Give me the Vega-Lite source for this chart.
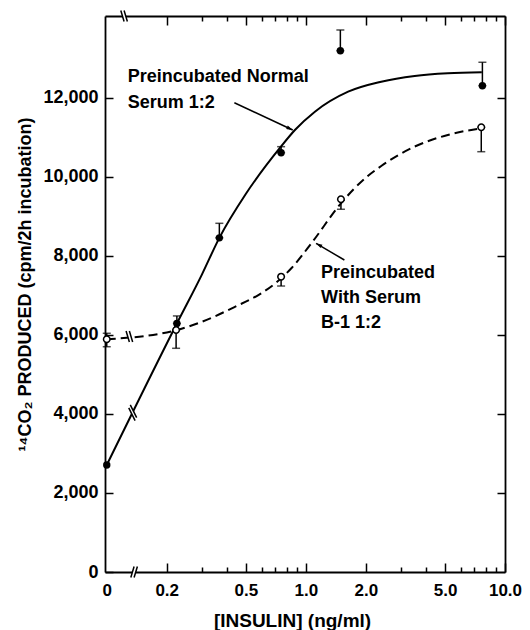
{
  "$schema": "https://vega.github.io/schema/vega-lite/v6.json",
  "width": 400,
  "height": 556,
  "autosize": "none",
  "padding": {"left": 105, "top": 16, "right": 25, "bottom": 58},
  "background": "white",
  "config": {
    "view": {"stroke": null},
    "font": "Liberation Sans",
    "axis": {
      "domainColor": "black", "domainWidth": 1.8,
      "tickColor": "black", "tickWidth": 1.5,
      "labelColor": "black", "titleColor": "black",
      "labelFont": "Liberation Sans", "titleFont": "Liberation Sans",
      "labelFontWeight": "bold", "titleFontWeight": "bold",
      "grid": false
    }
  },
  "datasets": {
    "curves": [
      {"series": "normal", "x": 0.1, "y": 2708},
      {"series": "normal", "x": 0.225, "y": 6290},
      {"series": "normal", "x": 0.3, "y": 7520},
      {"series": "normal", "x": 0.3677, "y": 8456},
      {"series": "normal", "x": 0.5, "y": 9571},
      {"series": "normal", "x": 0.751, "y": 10770},
      {"series": "normal", "x": 0.881, "y": 11185},
      {"series": "normal", "x": 1.11, "y": 11649},
      {"series": "normal", "x": 1.63, "y": 12155},
      {"series": "normal", "x": 2.39, "y": 12408},
      {"series": "normal", "x": 3.52, "y": 12552},
      {"series": "normal", "x": 5.16, "y": 12620},
      {"series": "normal", "x": 7.65, "y": 12646},
      {"series": "serum", "x": 0.1, "y": 5889},
      {"series": "serum", "x": 0.225, "y": 6124},
      {"series": "serum", "x": 0.3, "y": 6330},
      {"series": "serum", "x": 0.44, "y": 6710},
      {"series": "serum", "x": 0.6, "y": 7060},
      {"series": "serum", "x": 0.7, "y": 7300},
      {"series": "serum", "x": 0.85, "y": 7700},
      {"series": "serum", "x": 1.07, "y": 8330},
      {"series": "serum", "x": 1.5, "y": 9330},
      {"series": "serum", "x": 2.0, "y": 9980},
      {"series": "serum", "x": 2.4, "y": 10280},
      {"series": "serum", "x": 3.5, "y": 10760},
      {"series": "serum", "x": 5.16, "y": 11060},
      {"series": "serum", "x": 7.6, "y": 11230}
    ],
    "points": [
      {"series": "normal", "x": 0.1, "y": 2708},
      {"series": "normal", "x": 0.225, "y": 6290},
      {"series": "normal", "x": 0.3677, "y": 8456},
      {"series": "normal", "x": 0.751, "y": 10611},
      {"series": "normal", "x": 1.49, "y": 13192},
      {"series": "normal", "x": 7.7, "y": 12306},
      {"series": "serum", "x": 0.1, "y": 5889},
      {"series": "serum", "x": 0.223, "y": 6124},
      {"series": "serum", "x": 0.751, "y": 7473},
      {"series": "serum", "x": 1.5, "y": 9432},
      {"series": "serum", "x": 7.6, "y": 11254}
    ],
    "errors": [
      {"series": "normal", "x": 0.225, "lo": 6290, "hi": 6480},
      {"series": "normal", "x": 0.3677, "lo": 8456, "hi": 8824},
      {"series": "normal", "x": 0.751, "lo": 10611, "hi": 10763},
      {"series": "normal", "x": 1.49, "lo": 13192, "hi": 13716},
      {"series": "normal", "x": 7.7, "lo": 12306, "hi": 12899},
      {"series": "serum", "x": 0.1, "lo": 5701, "hi": 6041},
      {"series": "serum", "x": 0.223, "lo": 5661, "hi": 6124},
      {"series": "serum", "x": 0.751, "lo": 7237, "hi": 7473},
      {"series": "serum", "x": 1.5, "lo": 9179, "hi": 9432},
      {"series": "serum", "x": 7.6, "lo": 10636, "hi": 11254}
    ],
    "labels": [
      {"x": 0.1275, "y": 12514, "text": "Preincubated Normal"},
      {"x": 0.1275, "y": 11881, "text": "Serum 1:2"},
      {"x": 1.192, "y": 7559, "text": "Preincubated"},
      {"x": 1.192, "y": 6926, "text": "With Serum"},
      {"x": 1.192, "y": 6294, "text": "B-1 1:2"}
    ],
    "arrows": [
      {"arrow": "normal", "x": 0.4375, "y": 11876, "x2": 0.859, "y2": 11185},
      {"arrow": "serum", "x": 1.561, "y": 7895, "x2": 1.125, "y2": 8318}
    ],
    "breaks": [
      {"kind": "steep", "x": 0.135, "y": 4030},
      {"kind": "flat", "x": 0.1299, "y": 5960},
      {"kind": "flat", "x": 0.1222, "y": 14070},
      {"kind": "bottom", "x": 0.1372, "y": 0}
    ]
  },
  "encoding": {
    "x": {"field": "x", "type": "quantitative", "scale": {"type": "log", "domain": [0.098, 10], "nice": false}, "axis": null},
    "y": {"field": "y", "type": "quantitative", "scale": {"domain": [0, 14070], "nice": false, "zero": false}, "axis": null}
  },
  "layer": [
    {
      "data": {"name": "curves"},
      "transform": [{"filter": "datum.series == 'normal'"}],
      "mark": {"type": "line", "interpolate": "monotone", "color": "black", "strokeWidth": 2},
      "encoding": {
        "x": {
          "field": "x", "type": "quantitative",
          "scale": {"type": "log", "domain": [0.098, 10], "nice": false},
          "axis": {
            "orient": "bottom",
            "values": [0.1, 0.2, 0.3, 0.4, 0.5, 0.6, 0.7, 0.8, 0.9, 1, 2, 3, 4, 5, 6, 7, 8, 9, 10],
            "labelExpr": "datum.value < 0.15 ? '0' : (indexof([0.2, 0.5, 1, 2, 5, 10], datum.value) >= 0 ? format(datum.value, '.1f') : '')",
            "tickSize": {"condition": {"test": "indexof([0.1, 0.2, 0.5, 1, 2, 5, 10], datum.value) >= 0", "value": -9}, "value": -5},
            "tickOpacity": {"condition": {"test": "datum.value < 0.15", "value": 0}, "value": 1},
            "labelPadding": 19,
            "labelFontSize": 17,
            "labelOverlap": false,
            "labelFlush": false,
            "labelBound": false,
            "title": "[INSULIN] (ng/ml)",
            "titleX": 187,
            "titleY": 48,
            "titleBaseline": "middle",
            "titleFontSize": 19
          }
        },
        "y": {
          "field": "y", "type": "quantitative",
          "scale": {"domain": [0, 14070], "nice": false, "zero": false},
          "axis": {
            "orient": "left",
            "values": [0, 2000, 4000, 6000, 8000, 10000, 12000],
            "labelExpr": "format(datum.value, ',')",
            "tickSize": -8,
            "labelPadding": 15,
            "labelFontSize": 18,
            "title": "¹⁴CO₂ PRODUCED (cpm/2h incubation)",
            "titleX": -80,
            "titleY": 268,
            "titleBaseline": "middle",
            "titleFontSize": 18
          }
        }
      }
    },
    {
      "data": {"name": "curves"},
      "transform": [{"filter": "datum.series == 'serum'"}],
      "mark": {"type": "line", "interpolate": "monotone", "color": "black", "strokeWidth": 2, "strokeDash": [9, 5]},
      "encoding": {
        "x": {
          "field": "x", "type": "quantitative",
          "scale": {"type": "log", "domain": [0.098, 10], "nice": false},
          "axis": {
            "orient": "top",
            "values": [0.1, 0.2, 0.3, 0.4, 0.5, 0.6, 0.7, 0.8, 0.9, 1, 2, 3, 4, 5, 6, 7, 8, 9, 10],
            "labels": false,
            "tickSize": {"condition": {"test": "indexof([0.1, 0.2, 0.5, 1, 2, 5, 10], datum.value) >= 0", "value": -9}, "value": -5},
            "tickOpacity": {"condition": {"test": "datum.value < 0.15", "value": 0}, "value": 1},
            "title": null
          }
        },
        "y": {
          "field": "y", "type": "quantitative",
          "scale": {"domain": [0, 14070], "nice": false, "zero": false},
          "axis": {
            "orient": "right",
            "values": [2000, 4000, 6000, 8000, 10000, 12000],
            "labels": false,
            "tickSize": -8,
            "title": null
          }
        }
      }
    },
    {
      "data": {"name": "errors"},
      "mark": {"type": "errorbar", "ticks": {"size": 8, "thickness": 1.5}, "rule": {"strokeWidth": 1.5}, "color": "black"},
      "encoding": {
        "y": {"field": "lo", "type": "quantitative", "scale": {"domain": [0, 14070], "nice": false, "zero": false}, "axis": null},
        "y2": {"field": "hi"}
      }
    },
    {
      "data": {"name": "points"},
      "transform": [{"filter": "datum.series == 'normal'"}],
      "mark": {"type": "point", "shape": "circle", "filled": true, "color": "black", "size": 55, "opacity": 1}
    },
    {
      "data": {"name": "points"},
      "transform": [{"filter": "datum.series == 'serum'"}],
      "mark": {"type": "point", "shape": "circle", "filled": true, "fill": "white", "stroke": "black", "strokeWidth": 1.5, "size": 42, "opacity": 1}
    },
    {
      "data": {"name": "labels"},
      "mark": {"type": "text", "align": "left", "baseline": "middle", "font": "Liberation Sans", "fontSize": 18, "fontWeight": "bold", "color": "black"},
      "encoding": {"text": {"field": "text"}}
    },
    {
      "data": {"name": "arrows"},
      "mark": {"type": "rule", "color": "black", "strokeWidth": 1.5},
      "encoding": {"x2": {"field": "x2"}, "y2": {"field": "y2"}}
    },
    {
      "data": {"name": "arrows"},
      "transform": [{"filter": "datum.arrow == 'normal'"}],
      "mark": {"type": "point", "shape": "M 0 0 L -2 -0.6 L -2 0.6 Z", "filled": true, "color": "black", "size": 40, "angle": 25, "opacity": 1},
      "encoding": {
        "x": {"field": "x2", "type": "quantitative", "scale": {"type": "log", "domain": [0.098, 10], "nice": false}, "axis": null},
        "y": {"field": "y2", "type": "quantitative", "scale": {"domain": [0, 14070], "nice": false, "zero": false}, "axis": null}
      }
    },
    {
      "data": {"name": "arrows"},
      "transform": [{"filter": "datum.arrow == 'serum'"}],
      "mark": {"type": "point", "shape": "M 0 0 L -2 -0.6 L -2 0.6 Z", "filled": true, "color": "black", "size": 40, "angle": 210, "opacity": 1},
      "encoding": {
        "x": {"field": "x2", "type": "quantitative", "scale": {"type": "log", "domain": [0.098, 10], "nice": false}, "axis": null},
        "y": {"field": "y2", "type": "quantitative", "scale": {"domain": [0, 14070], "nice": false, "zero": false}, "axis": null}
      }
    },
    {
      "data": {"name": "breaks"},
      "transform": [{"filter": "datum.kind == 'flat'"}],
      "mark": {"type": "point", "shape": "M -0.6 -1 L 0 1 L 0.6 1 L 0 -1 Z", "filled": true, "color": "white", "size": 120, "opacity": 1}
    },
    {
      "data": {"name": "breaks"},
      "transform": [{"filter": "datum.kind == 'flat'"}],
      "mark": {"type": "point", "shape": "M -0.6 -1 L 0 1 M 0 -1 L 0.6 1", "filled": false, "color": "black", "strokeWidth": 1.5, "size": 120, "opacity": 1}
    },
    {
      "data": {"name": "breaks"},
      "transform": [{"filter": "datum.kind == 'bottom'"}],
      "mark": {"type": "point", "shape": "M -0.6 1 L 0 -1 L 0.6 -1 L 0 1 Z", "filled": true, "color": "white", "size": 120, "opacity": 1}
    },
    {
      "data": {"name": "breaks"},
      "transform": [{"filter": "datum.kind == 'bottom'"}],
      "mark": {"type": "point", "shape": "M -0.6 1 L 0 -1 M 0 1 L 0.6 -1", "filled": false, "color": "black", "strokeWidth": 1.5, "size": 120, "opacity": 1}
    },
    {
      "data": {"name": "breaks"},
      "transform": [{"filter": "datum.kind == 'steep'"}],
      "mark": {"type": "point", "shape": "M -0.56 -0.68 L 0.34 1.12 L 0.56 0.68 L -0.34 -1.12 Z", "filled": true, "color": "white", "size": 200, "opacity": 1}
    },
    {
      "data": {"name": "breaks"},
      "transform": [{"filter": "datum.kind == 'steep'"}],
      "mark": {"type": "point", "shape": "M -0.56 -0.68 L 0.34 1.12 M -0.34 -1.12 L 0.56 0.68", "filled": false, "color": "black", "strokeWidth": 1.5, "size": 200, "opacity": 1}
    }
  ],
  "resolve": {"axis": {"x": "independent", "y": "independent"}}
}
